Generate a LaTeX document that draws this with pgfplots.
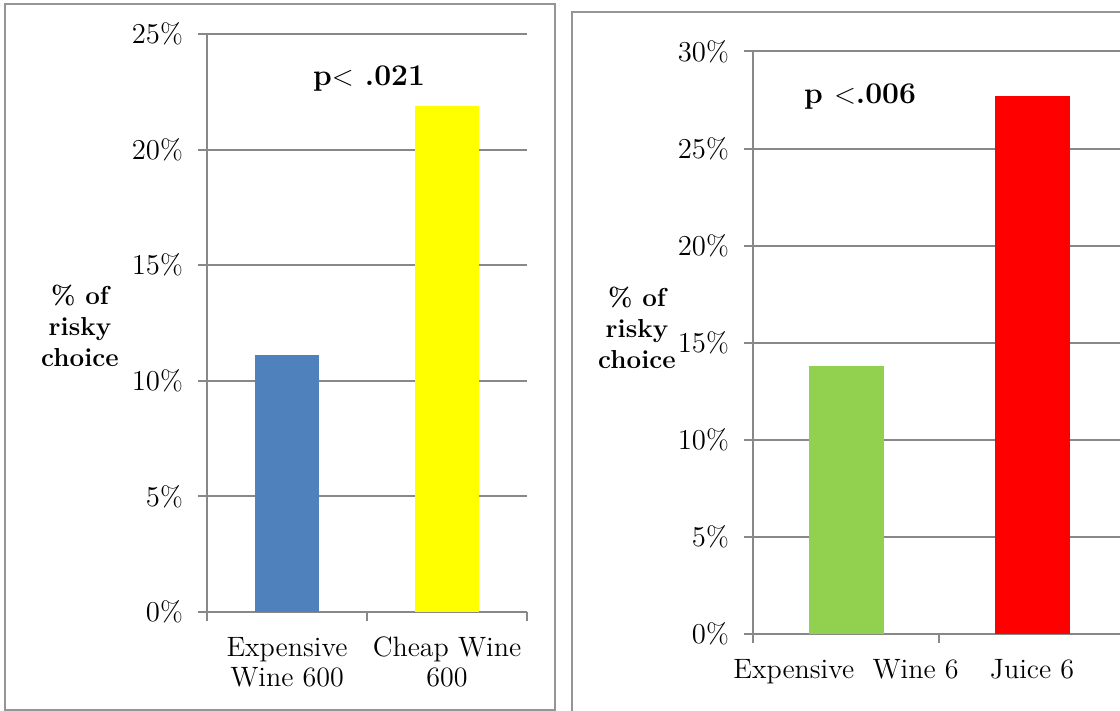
\documentclass[border=0pt]{standalone}
\usepackage{pgfplots}
\pgfplotsset{compat=1.18}
\definecolor{xlblue}{HTML}{4F81BD}
\definecolor{xlyellow}{HTML}{FFFF00}
\definecolor{xlgreen}{HTML}{92D050}
\definecolor{xlred}{HTML}{FF0000}
\definecolor{axgray}{HTML}{888888}
\definecolor{boxgray}{HTML}{959595}

\pgfplotsset{panel/.style={
  scale only axis, ybar, bar shift=0pt,
  axis x line*=bottom, axis y line*=left,
  axis line style={draw=axgray, line width=1pt, -},
  ymin=0, ytick distance=5,
  ymajorgrids, grid style={draw=axgray, line width=1pt},
  xmin=-0.5, xmax=1.5,
  xtick={-0.5,0.5,1.5}, xticklabels={},
  extra x ticks={0,1},
  extra x tick style={major tick length=0pt},
  tick align=outside, major tick length=4.5pt,
  tick style={draw=axgray, line width=1pt},
  yticklabel={\pgfmathprintnumber{\tick}\%},
  yticklabel style={font=\fontsize{14}{16}\selectfont, xshift=-4pt},
  xticklabel style={font=\fontsize{14}{15}\selectfont, align=center, yshift=-9pt},
}}

\begin{document}
\begin{tikzpicture}
\useasboundingbox (0,0) rectangle (560pt,355.5pt);
\clip (0,0) rectangle (560pt,355.5pt);
% panel frames
\draw[boxgray, line width=1pt] (2.5pt,0.5pt) rectangle (277.5pt,353.5pt);
\draw[boxgray, line width=1pt] (286pt,-5pt) rectangle (570pt,349.5pt);

\begin{axis}[panel,
  at={(103.5pt,49.5pt)}, anchor=south west,
  width=160pt, height=289pt,
  ymax=25, bar width=32pt,
  extra x tick labels={Expensive\\Wine 600, Cheap Wine\\600},
]
\addplot[fill=xlblue, draw=none] coordinates {(0,11.1)};
\addplot[fill=xlyellow, draw=none] coordinates {(1,21.9)};
\end{axis}

\begin{axis}[panel,
  at={(376.5pt,38.5pt)}, anchor=south west,
  width=186pt, height=291.25pt,
  ymax=30, bar width=37.5pt,
  extra x tick labels={Expensive\ \ Wine 6, Juice 6},
]
\addplot[fill=xlgreen, draw=none] coordinates {(0,13.8)};
\addplot[fill=xlred, draw=none] coordinates {(1,27.7)};
\end{axis}

\node[anchor=base, font=\fontsize{15}{16}\selectfont\bfseries] at (184.5pt,312.5pt) {p$<$ .021};
\node[anchor=base, font=\fontsize{15}{16}\selectfont\bfseries] at (430pt,303.5pt) {p $<$.006};

\node[align=center, font=\fontsize{13}{15.5}\selectfont\bfseries] at (40pt,192.5pt) {\% of\\risky\\choice};
\node[align=center, font=\fontsize{13}{15.5}\selectfont\bfseries] at (318.5pt,191.5pt) {\% of\\risky\\choice};
\end{tikzpicture}
\end{document}
